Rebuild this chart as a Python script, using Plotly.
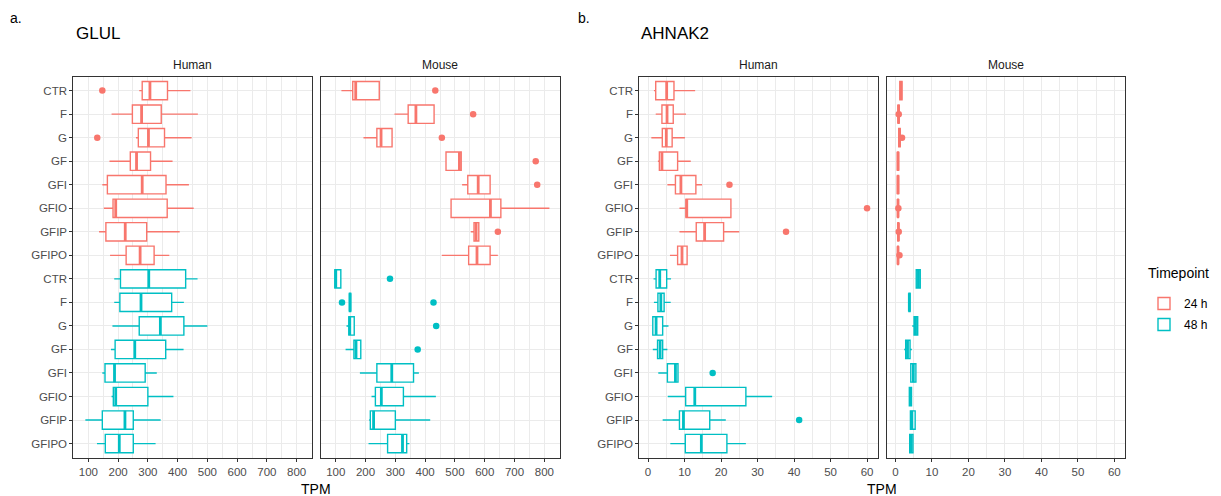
import plotly.graph_objects as go

W, H = 1221, 496

categories = ["CTR", "F", "G", "GF", "GFI", "GFIO", "GFIP", "GFIPO"]
timepoints = ["24 h", "48 h"]
colors = {"24 h": "#F8766D", "48 h": "#00BFC4"}

# each row: [lower whisker, Q1, median, Q3, upper whisker] per category
glul_human_24 = [[271, 281, 307, 366, 443], [178, 248, 279, 345, 468], [260, 268, 302, 356, 447],
                 [171, 241, 262, 309, 383], [147, 164, 281, 361, 438], [152, 183, 192, 365, 454],
                 [136, 159, 224, 296, 407], [173, 227, 274, 321, 372]]
glul_human_48 = [[187, 208, 303, 427, 467], [187, 206, 277, 380, 421], [181, 271, 342, 421, 500],
                 [176, 190, 256, 360, 420], [147, 156, 188, 291, 330], [178, 184, 192, 300, 386],
                 [90, 147, 223, 251, 343], [129, 157, 204, 251, 326]]
glul_mouse_24 = [[119, 157, 167, 246, 246], [297, 343, 369, 430, 430], [193, 238, 252, 289, 289],
                 [470, 470, 515, 521, 521], [524, 543, 578, 618, 618], [487, 487, 619, 654, 817],
                 [553, 564, 571, 580, 580], [456, 546, 574, 618, 644]]
glul_mouse_48 = [[97, 97, 100, 117, 117], [146, 146, 148, 150, 150], [136, 144, 147, 162, 162],
                 [133, 161, 168, 184, 184], [181, 238, 288, 361, 379], [220, 233, 253, 327, 436],
                 [212, 216, 227, 300, 417], [210, 274, 324, 338, 347]]
ahnak2_human_24 = [[1.6, 2.1, 5.1, 7.1, 12.9], [2.1, 3.8, 5.2, 6.9, 10.4], [0.9, 3.9, 5.0, 6.6, 10.1],
                   [2.7, 3.1, 3.8, 8.1, 11.7], [5.3, 7.5, 9.0, 13.1, 14.8], [8.6, 10.4, 10.6, 22.7, 22.7],
                   [8.6, 13.2, 15.5, 20.7, 25.0], [6.0, 8.1, 9.3, 10.7, 10.7]]
ahnak2_human_48 = [[1.5, 2.2, 3.2, 5.1, 6.3], [1.6, 2.7, 3.5, 4.4, 6.2], [1.3, 1.3, 2.2, 4.0, 5.6],
                   [1.3, 2.6, 3.3, 4.0, 5.3], [2.8, 5.3, 7.5, 8.2, 8.2], [5.4, 10.3, 12.8, 26.8, 34.0],
                   [4.0, 8.6, 9.7, 16.9, 21.3], [6.1, 10.2, 14.6, 21.6, 26.8]]
ahnak2_mouse_24 = [[1.2, 1.2, 1.5, 1.8, 1.8], [0.7, 0.7, 0.85, 1.0, 1.0], [0.9, 0.9, 1.1, 1.3, 1.3],
                   [0.5, 0.55, 0.7, 0.85, 0.9], [0.5, 0.55, 0.7, 0.85, 0.9], [0.55, 0.6, 0.7, 0.8, 0.85],
                   [0.6, 0.65, 0.8, 0.9, 0.95], [0.55, 0.6, 0.7, 0.8, 0.85]]
ahnak2_mouse_48 = [[5.5, 5.7, 6.3, 6.8, 6.8], [3.7, 3.7, 3.8, 4.0, 4.0], [4.6, 5.1, 5.5, 6.1, 6.1],
                   [2.4, 2.8, 3.3, 4.0, 4.5], [4.2, 4.2, 4.9, 5.6, 5.6], [3.8, 3.8, 4.1, 4.4, 4.4],
                   [4.1, 4.1, 4.5, 5.4, 5.4], [3.9, 3.9, 4.3, 4.8, 4.8]]

# outliers: (category, value)
glul_human_24_out = [("CTR", 147), ("G", 130)]
glul_mouse_24_out = [("CTR", 434), ("F", 561), ("G", 456), ("GF", 771), ("GFI", 776), ("GFIP", 644)]
glul_mouse_48_out = [("CTR", 282), ("F", 121), ("F", 428), ("G", 437), ("GF", 375)]
ahnak2_human_24_out = [("GFI", 22.3), ("GFIO", 60.0), ("GFIP", 37.8)]
ahnak2_human_48_out = [("GFI", 17.7), ("GFIP", 41.4)]
ahnak2_mouse_24_out = [("F", 0.9), ("G", 1.8), ("GFIO", 0.8), ("GFIP", 0.9), ("GFIPO", 1.1)]

glul_range = [49.5, 852.5]
ahnak2_range = [-2.4, 63.0]

# panel geometry (pixels)
panels = [
    dict(x0=73.3, x1=312.3, rng=glul_range, dtick=100, minor=50, label="Human",
         stats={"24 h": glul_human_24, "48 h": glul_human_48},
         outs={"24 h": glul_human_24_out, "48 h": []}, ylabels=True),
    dict(x0=320.7, x1=560.0, rng=glul_range, dtick=100, minor=50, label="Mouse",
         stats={"24 h": glul_mouse_24, "48 h": glul_mouse_48},
         outs={"24 h": glul_mouse_24_out, "48 h": glul_mouse_48_out}, ylabels=False),
    dict(x0=639.3, x1=878.0, rng=ahnak2_range, dtick=10, minor=5, label="Human",
         stats={"24 h": ahnak2_human_24, "48 h": ahnak2_human_48},
         outs={"24 h": ahnak2_human_24_out, "48 h": ahnak2_human_48_out}, ylabels=True),
    dict(x0=886.7, x1=1125.3, rng=ahnak2_range, dtick=10, minor=5, label="Mouse",
         stats={"24 h": ahnak2_mouse_24, "48 h": ahnak2_mouse_48},
         outs={"24 h": ahnak2_mouse_24_out, "48 h": []}, ylabels=False),
]
y_top, y_bot = 76.5, 457.7
BOXW = 0.78
FONT = "Liberation Sans, Arial, sans-serif"

fig = go.Figure()
layout = dict()
annotations = []
legend_shown = set()

for i, p in enumerate(panels):
    n = i + 1
    xa = "x" if n == 1 else f"x{n}"
    ya = "y" if n == 1 else f"y{n}"
    for ti, tp in enumerate(timepoints):
        rows = p["stats"][tp]
        pos = [ti * len(categories) + k for k in range(len(categories))]
        col = colors[tp]
        show = tp not in legend_shown
        legend_shown.add(tp)
        fig.add_trace(go.Box(
            orientation="h", y=pos,
            lowerfence=[r[0] for r in rows], q1=[r[1] for r in rows],
            median=[r[2] for r in rows], q3=[r[3] for r in rows],
            upperfence=[r[4] for r in rows],
            boxpoints=False, width=BOXW, whiskerwidth=0,
            fillcolor="white", line=dict(color=col, width=1.4),
            name=tp, legendgroup=tp, showlegend=show,
            xaxis=xa, yaxis=ya, hoverinfo="skip"))
        # thick median lines
        mx, my = [], []
        for k, r in enumerate(rows):
            mx += [r[2], r[2], None]
            my += [pos[k] - BOXW / 2, pos[k] + BOXW / 2, None]
        fig.add_trace(go.Scatter(x=mx, y=my, mode="lines", line=dict(color=col, width=2.8),
                                 showlegend=False, legendgroup=tp, xaxis=xa, yaxis=ya,
                                 hoverinfo="skip"))
        outs = p["outs"][tp]
        if outs:
            fig.add_trace(go.Scatter(
                x=[v for c, v in outs],
                y=[ti * len(categories) + categories.index(c) for c, v in outs],
                mode="markers", marker=dict(color=col, size=6.5),
                showlegend=False, legendgroup=tp, xaxis=xa, yaxis=ya, hoverinfo="skip"))

    xkey = "xaxis" if n == 1 else f"xaxis{n}"
    ykey = "yaxis" if n == 1 else f"yaxis{n}"
    layout[xkey] = dict(
        domain=[p["x0"] / W, p["x1"] / W], range=p["rng"], anchor=ya,
        dtick=p["dtick"], tick0=0, showgrid=True, gridcolor="#EBEBEB", gridwidth=1.1,
        minor=dict(dtick=p["minor"], tick0=0, showgrid=True, gridcolor="#EBEBEB", gridwidth=0.7),
        zeroline=False, showline=True, mirror=True, linecolor="#333333", linewidth=1,
        ticks="outside", ticklen=3, tickcolor="#333333", tickwidth=1,
        tickfont=dict(family=FONT, size=11.5, color="#4D4D4D"), automargin=False)
    layout[ykey] = dict(
        domain=[1 - y_bot / H, 1 - y_top / H], range=[15.6, -0.6], anchor=xa,
        tickvals=list(range(16)), ticktext=categories * 2,
        showticklabels=p["ylabels"], ticks="outside" if p["ylabels"] else "",
        ticklen=3, tickcolor="#333333", tickwidth=1,
        showgrid=True, gridcolor="#EBEBEB", gridwidth=1.1, zeroline=False,
        showline=True, mirror=True, linecolor="#333333", linewidth=1,
        tickfont=dict(family=FONT, size=11.5, color="#4D4D4D"), automargin=False)
    annotations.append(dict(text=p["label"], x=(p["x0"] + p["x1"]) / 2 / W, y=1 - 65 / H,
                            xref="paper", yref="paper", showarrow=False,
                            font=dict(family=FONT, size=12, color="#1A1A1A"),
                            xanchor="center", yanchor="middle"))

for txt, x, y, size in [("a.", 8, 18, 14), ("GLUL", 74, 33, 17), ("b.", 576, 18, 14),
                        ("AHNAK2", 639, 33, 17), ("TPM", 316, 489, 14), ("TPM", 882, 489, 14),
                        ("Timepoint", 1146, 273, 14)]:
    annotations.append(dict(text=txt, x=x / W, y=1 - y / H, xref="paper", yref="paper",
                            showarrow=False, font=dict(family=FONT, size=size, color="black"),
                            xanchor="center" if txt == "TPM" else "left", yanchor="middle"))

fig.update_layout(
    width=W, height=H, margin=dict(l=0, r=0, t=0, b=0),
    paper_bgcolor="white", plot_bgcolor="white",
    annotations=annotations,
    legend=dict(x=1144 / W, y=1 - 289 / H, xanchor="left", yanchor="top",
                font=dict(family=FONT, size=12, color="black"), tracegroupgap=2,
                itemwidth=30, bgcolor="rgba(0,0,0,0)"),
    **layout)

fig.write_html("out.html", config={"displayModeBar": False},
               post_script="document.body.style.margin='0';document.body.style.overflow='hidden';")
